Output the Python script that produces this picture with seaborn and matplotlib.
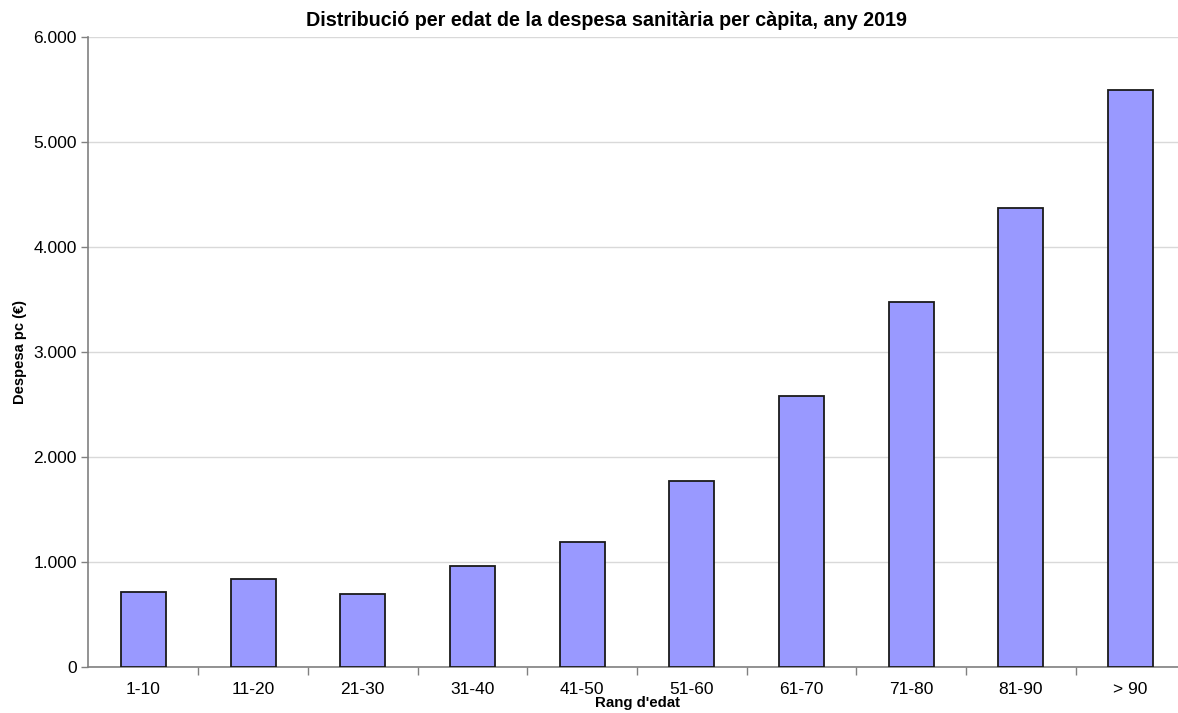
import matplotlib
matplotlib.use("Agg")
import matplotlib.pyplot as plt
import seaborn as sns
import pandas as pd
from matplotlib.ticker import FuncFormatter

# Data
age_groups = ["1-10", "11-20", "21-30", "31-40", "41-50", "51-60", "61-70", "71-80", "81-90", "> 90"]
spend_pc = [714, 838, 695, 962, 1190, 1771, 2581, 3476, 4371, 5495]

df = pd.DataFrame({"edat": age_groups, "despesa": spend_pc})

sns.set_style("white")
plt.rcParams["font.family"] = ["Liberation Sans", "DejaVu Sans"]
plt.rcParams["text.color"] = "black"
plt.rcParams["xtick.color"] = "black"
plt.rcParams["ytick.color"] = "black"
plt.rcParams["axes.labelcolor"] = "black"

fig = plt.figure(figsize=(11.78, 7.13), dpi=100)
ax = fig.add_axes([0.0751, 0.0645, 0.9313, 0.8836])

sns.barplot(data=df, x="edat", y="despesa", color="#9999FF", saturation=1,
            width=0.41, edgecolor="#1a1a1a", linewidth=1.3, ax=ax, zorder=3)

ax.set_xlim(-0.5, len(age_groups) - 0.5)
ax.set_ylim(0, 6000)
ax.set_yticks(range(0, 6001, 1000))
ax.yaxis.set_major_formatter(FuncFormatter(lambda v, p: f"{int(v):,}".replace(",", ".")))
ax.yaxis.grid(True, color="#d9d9d9", linewidth=1, zorder=0)
ax.set_axisbelow(True)

# category separators as ticks
ax.set_xticks([i + 0.5 for i in range(len(age_groups) - 1)], minor=True)
ax.tick_params(axis="x", which="minor", bottom=True, length=6, color="#808080", width=1)
ax.tick_params(axis="x", which="major", bottom=True, length=0, labelsize=12.5, pad=11)
ax.tick_params(axis="y", length=5, color="#808080", width=1, labelsize=12.5, left=True)

for s in ["top", "right"]:
    ax.spines[s].set_visible(False)
for s in ["left", "bottom"]:
    ax.spines[s].set_color("#808080")
    ax.spines[s].set_linewidth(1.2)

ax.set_title("Distribució per edat de la despesa sanitària per càpita, any 2019",
             fontsize=14.2, fontweight="bold", x=0.472, pad=8)
ax.set_xlabel("Rang d'edat", fontsize=10.8, fontweight="bold")
ax.set_ylabel("Despesa pc (€)", fontsize=10.5, fontweight="bold")
ax.xaxis.set_label_coords(0.5, -0.046)
ax.yaxis.set_label_coords(-0.056, 0.5)

fig.savefig("out.png", dpi=100)
